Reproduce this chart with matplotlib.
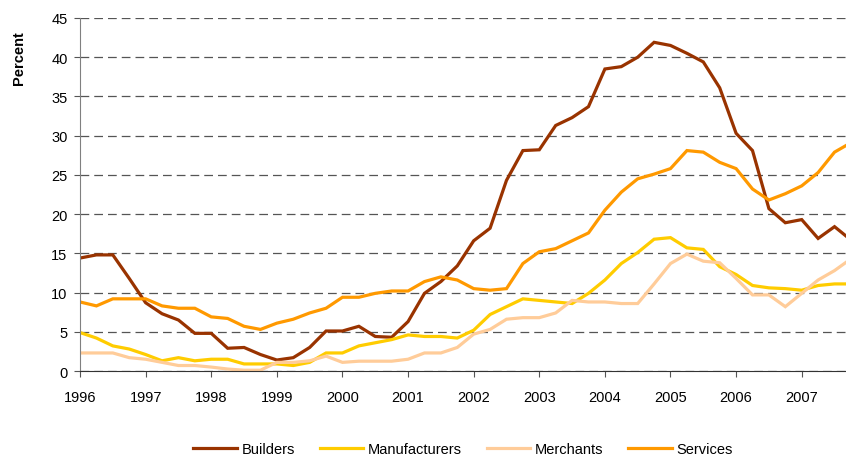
import matplotlib.pyplot as plt
import numpy as np

plt.rcParams['font.family'] = ['Liberation Sans', 'DejaVu Sans']

# quarterly, 1996 Q1 onwards
start_year = 1996
builders = [14.4, 14.8, 14.8, 11.8, 8.7, 7.3, 6.5, 4.8,
            4.8, 2.9, 3.0, 2.1, 1.4, 1.7, 3.0, 5.1,
            5.1, 5.7, 4.4, 4.3, 6.3, 9.9, 11.4, 13.4,
            16.6, 18.2, 24.3, 28.1, 28.2, 31.3, 32.3, 33.7,
            38.5, 38.8, 40.0, 41.9, 41.5, 40.5, 39.4, 36.1,
            30.3, 28.1, 20.7, 18.9, 19.3, 16.9, 18.4, 16.7]
manufacturers = [4.9, 4.2, 3.2, 2.8, 2.1, 1.3, 1.7, 1.3,
                 1.5, 1.5, 0.9, 0.9, 0.9, 0.7, 1.1, 2.3,
                 2.3, 3.2, 3.6, 4.0, 4.6, 4.4, 4.4, 4.2,
                 5.2, 7.2, 8.2, 9.2, 9.0, 8.8, 8.6, 9.9,
                 11.6, 13.7, 15.1, 16.8, 17.0, 15.7, 15.5, 13.3,
                 12.3, 10.9, 10.6, 10.5, 10.3, 10.9, 11.1, 11.1]
merchants = [2.3, 2.3, 2.3, 1.7, 1.5, 1.1, 0.7, 0.7,
             0.5, 0.25, 0.1, 0.1, 1.1, 1.1, 1.3, 1.9,
             1.1, 1.25, 1.25, 1.25, 1.5, 2.3, 2.3, 3.0,
             4.7, 5.3, 6.6, 6.8, 6.8, 7.4, 9.0, 8.8,
             8.8, 8.6, 8.6, 11.1, 13.7, 14.9, 14.0, 13.8,
             11.8, 9.7, 9.7, 8.2, 9.9, 11.6, 12.8, 14.3]
services = [8.8, 8.3, 9.2, 9.2, 9.2, 8.3, 8.0, 8.0,
            6.9, 6.7, 5.7, 5.3, 6.1, 6.6, 7.4, 8.0,
            9.4, 9.4, 9.9, 10.2, 10.2, 11.4, 12.0, 11.6,
            10.5, 10.3, 10.5, 13.7, 15.2, 15.6, 16.6, 17.6,
            20.5, 22.8, 24.5, 25.1, 25.8, 28.1, 27.9, 26.6,
            25.8, 23.2, 21.8, 22.6, 23.6, 25.3, 27.9, 29.1]

series = [('Builders', builders, '#993300'),
          ('Manufacturers', manufacturers, '#FFCC00'),
          ('Merchants', merchants, '#FFCC99'),
          ('Services', services, '#FF9900')]
years = list(range(1996, 2008))

x = start_year + np.arange(len(builders)) / 4.0

fig = plt.figure(figsize=(8.46, 4.6), dpi=100)
ax = fig.add_axes([0.0946, 0.1913, 0.9054, 0.7674])

for name, vals, col in series:
    ax.plot(x, vals, color=col, lw=2.3, label=name, solid_joinstyle='miter')

ax.set_xlim(1996, 1996 + 46.7 / 4)
ax.set_ylim(0, 45)
ax.set_yticks(range(0, 46, 5))
ax.set_xticks(years)
ax.set_xticklabels([str(y) for y in years])
ax.grid(axis='y', color='#555555', linestyle=(0, (7, 4)), lw=0.9)
ax.set_axisbelow(True)

for s in ['top', 'right']:
    ax.spines[s].set_visible(False)
ax.spines['left'].set_color('#808080')
ax.spines['bottom'].set_color('#333333')
ax.tick_params(axis='both', direction='out', length=4, labelsize=10.5,
               color='#555555')
ax.tick_params(axis='x', pad=10)
ax.tick_params(axis='y', pad=5)

# y label sits near the top, as in the original
ax.set_ylabel('Percent', fontsize=10.5, fontweight='bold')
ax.yaxis.set_label_coords(-0.07, 0.889)

ax.legend(loc='center', bbox_to_anchor=(0.5, -0.22), ncol=4, frameon=False,
          fontsize=10.5, handlelength=3.0, columnspacing=1.7, handletextpad=0.3)

fig.savefig('out.png', dpi=100)
